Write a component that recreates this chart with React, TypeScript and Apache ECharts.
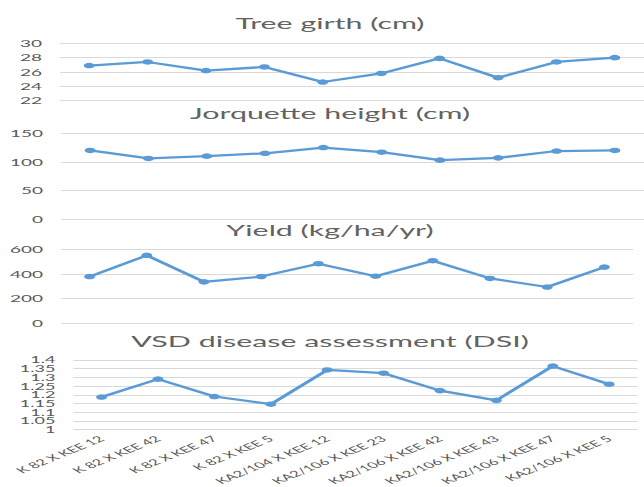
import React, { useEffect, useRef } from "react";
import * as echarts from "echarts";

const categories = [
  "K 82 X KEE 12",
  "K 82 X KEE 42",
  "K 82 X KEE 47",
  "K 82 X KEE 5",
  "KA2/104 X KEE 12",
  "KA2/106 X KEE 23",
  "KA2/106 X KEE 42",
  "KA2/106 X KEE 43",
  "KA2/106 X KEE 47",
  "KA2/106 X KEE 5",
];

const titles = [
  "Tree girth (cm)",
  "Jorquette height (cm)",
  "Yield (kg/ha/yr)",
  "VSD disease assessment (DSI)",
];

const treeGirth = [26.9, 27.4, 26.2, 26.7, 24.6, 25.8, 27.9, 25.2, 27.4, 28.0];
const jorquetteHeight = [120, 106, 110, 115, 125, 117, 103, 107, 119, 120];
const yieldValues = [378, 551, 335, 378, 483, 381, 507, 363, 293, 455];
const vsdValues = [1.187, 1.29, 1.19, 1.146, 1.343, 1.324, 1.224, 1.168, 1.365, 1.261];

const yMin = [22, 0, 0, 1];
const yMax = [30, 150, 600, 1.4];
const yInterval = [2, 50, 200, 0.05];

const vsdTicksA = [1, 1.1, 1.2, 1.3, 1.4];
const vsdTicksB = [1.05, 1.15, 1.25, 1.35];

export default function App() {
  const ref = useRef<HTMLDivElement>(null);

  useEffect(() => {
    const chart = echarts.init(ref.current!, null, { renderer: "svg" });
    const font = "Lato";
    const textColor = "#595959";
    const grids = [
      { left: 30, width: 296, top: 43.3, height: 57.4 },
      { left: 30.5, width: 292, top: 133.3, height: 85.7 },
      { left: 30.5, width: 286, top: 249.3, height: 73.7 },
      { left: 36.7, width: 282, top: 360, height: 71.7 },
    ];
    const titleY = [23, 113, 230, 341];
    const seriesData = [treeGirth, jorquetteHeight, yieldValues, vsdValues];
    const fmt = (v: number) => String(+Number(v).toFixed(2));

    const yAxes: any[] = grids.map((_, i) => ({
      type: "value",
      gridIndex: i,
      min: yMin[i],
      max: yMax[i],
      interval: yInterval[i],
      axisLine: { show: false },
      axisTick: { show: false },
      splitLine: { show: true, lineStyle: { color: "#d9d9d9", width: 1 } },
      axisLabel: {
        margin: 9,
        fontFamily: font,
        fontSize: i === 3 ? 9 : 9.5,
        lineHeight: i === 3 ? 8 : 12,
        color: textColor,
        showMinLabel: true,
        showMaxLabel: true,
        hideOverlap: false,
        formatter: fmt,
        ...(i === 3 ? { customValues: vsdTicksA } : {}),
      },
    }));
    yAxes.push({
      type: "value",
      gridIndex: 3,
      position: "left",
      min: yMin[3],
      max: yMax[3],
      interval: yInterval[3],
      axisLine: { show: false },
      axisTick: { show: false },
      splitLine: { show: false },
      axisLabel: {
        margin: 9,
        fontFamily: font,
        fontSize: 9,
        lineHeight: 8,
        color: textColor,
        hideOverlap: false,
        formatter: fmt,
        customValues: vsdTicksB,
      },
    });

    chart.setOption({
      animation: false,
      backgroundColor: "#ffffff",
      grid: grids,
      graphic: titles.map((t, i) => ({
        type: "text",
        x: 165,
        y: titleY[i],
        style: {
          text: t,
          fontFamily: font,
          fontSize: 15.2,
          fill: "#626262",
          textAlign: "center",
          textVerticalAlign: "middle",
        },
      })),
      xAxis: grids.map((_, i) => ({
        type: "category",
        gridIndex: i,
        data: categories,
        boundaryGap: true,
        axisLine: { show: false },
        axisTick: { show: false },
        axisLabel:
          i === 3
            ? {
                show: true,
                rotate: 39,
                interval: 0,
                margin: 8,
                fontFamily: font,
                fontSize: 8.3,
                color: textColor,
              }
            : { show: false },
      })),
      yAxis: yAxes,
      series: seriesData.map((d, i) => ({
        type: "line",
        xAxisIndex: i,
        yAxisIndex: i,
        data: d,
        symbol: "circle",
        symbolSize: 5.5,
        lineStyle: { color: "#5b9bd5", width: 2.25 },
        itemStyle: { color: "#5b9bd5" },
      })),
    });
    return () => chart.dispose();
  }, []);

  return (
    <div
      style={{
        position: "absolute",
        left: 0,
        top: 0,
        width: 644,
        height: 487,
        overflow: "hidden",
        background: "#ffffff",
      }}
    >
      <div
        ref={ref}
        style={{
          width: 322,
          height: 487,
          transform: "scaleX(2)",
          transformOrigin: "0 0",
        }}
      />
    </div>
  );
}
